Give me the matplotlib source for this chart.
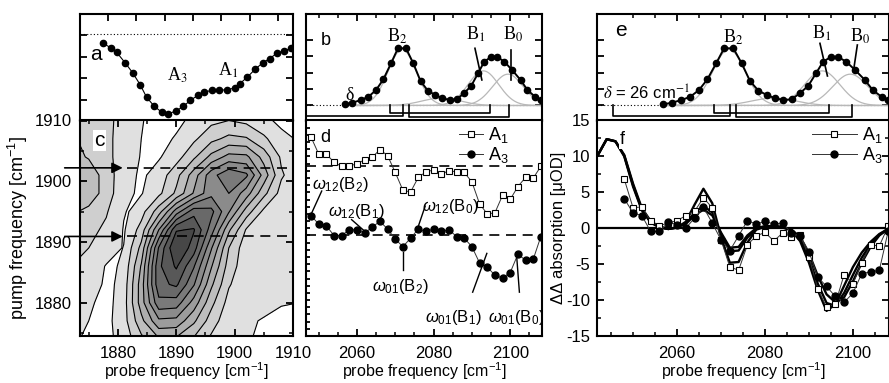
import numpy as np
import matplotlib as mpl
mpl.use('Agg')
import matplotlib.pyplot as plt

plt.rcParams.update({
    'font.family': ['Liberation Sans', 'DejaVu Sans'],
    'mathtext.fontset': 'custom',
    'mathtext.rm': 'Liberation Sans',
    'mathtext.it': 'Liberation Sans:italic',
    'mathtext.bf': 'Liberation Sans:bold',
    'axes.unicode_minus': False,
    'font.size': 12,
    'axes.linewidth': 1.5,
    'xtick.direction': 'in', 'ytick.direction': 'in',
    'xtick.top': True, 'ytick.right': True,
    'xtick.major.size': 5, 'ytick.major.size': 5,
    'xtick.minor.size': 3, 'ytick.minor.size': 3,
    'xtick.major.width': 1.3, 'ytick.major.width': 1.3,
    'xtick.minor.width': 1.1, 'ytick.minor.width': 1.1,
})

# --- a: linear absorption of the A bands
a_freq = [1877.5, 1878.8, 1879.8, 1881.2, 1882.5, 1883.8, 1884.9, 1886.2, 1887.5,
          1888.6, 1889.9, 1891.2, 1892.4, 1893.7, 1894.8, 1896.1, 1897.3, 1898.7,
          1900.0, 1900.9, 1902.2, 1903.5, 1904.8, 1906.0, 1907.2, 1908.4, 1909.6]
a_abs = [-0.93, -1.37, -1.83, -2.83, -3.83, -5.03, -6.27, -7.17, -7.77, -7.93, -7.67,
         -7.2, -6.6, -6.1, -5.77, -5.6, -5.6, -5.53, -5.37, -4.93, -4.27, -3.5, -2.87,
         -2.43, -1.93, -1.67, -1.43]

# --- c: 2D spectrum (contour level index), main diagonal peak and left cross feature
c_probe = [1872, 1875, 1878, 1881, 1884, 1887, 1890, 1893, 1896, 1899, 1902, 1905, 1908, 1911]
c_pump = [1874, 1877, 1880, 1883, 1886, 1889, 1892, 1895, 1898, 1901, 1904, 1907, 1910, 1913]
c_main = [
    [0, 0.03, 0.22, 0.89, 2.24, 3.4, 3.3, 2.37, 1.29, 0.6, 0.6, 0.3, 0.3, 0.3],
    [0, 0.02, 0.2, 1.1, 3.2, 5.3, 5.2, 3.7, 2.0, 0.83, 0.6, 0.45, 0.3, 0.3],
    [0, 0.01, 0.14, 1.05, 4.0, 7.2, 7.05, 5.1, 2.8, 1.13, 0.7, 0.7, 0.55, 0.5],
    [0, 0, 0.11, 0.95, 4.0, 8.2, 8.7, 6.6, 3.7, 1.6, 0.8, 0.8, 0.8, 0.8],
    [0, 0, 0.08, 0.75, 3.6, 8.3, 9.65, 7.6, 4.6, 2.05, 0.85, 0.85, 0.85, 0.85],
    [0, 0, 0.05, 0.53, 2.8, 7.6, 10.6, 9.0, 5.6, 2.5, 0.85, 0.85, 0.85, 0.85],
    [0, 0, 0.04, 0.38, 1.9, 5.5, 9.4, 9.6, 7.0, 3.7, 1.4, 0.85, 0.85, 0.85],
    [0, 0, 0.04, 0.26, 1.08, 3.05, 6.0, 8.1, 7.8, 5.6, 3.05, 1.25, 0.85, 0.85],
    [0, 0, 0.03, 0.12, 0.44, 1.25, 2.7, 4.6, 6.2, 6.5, 5.0, 2.8, 1.12, 0.85],
    [0, 0, 0.02, 0.09, 0.31, 0.93, 2.15, 4.0, 6.1, 7.3, 6.7, 4.1, 1.63, 0.85],
    [0, 0, 0.01, 0.03, 0.12, 0.4, 1.08, 2.3, 3.8, 4.85, 4.75, 3.1, 1.33, 0.85],
    [0, 0, 0, 0.01, 0.05, 0.2, 0.59, 1.3, 2.2, 2.76, 2.6, 1.7, 0.76, 0.4],
    [0, 0, 0, 0, 0.02, 0.08, 0.28, 0.72, 1.25, 1.5, 1.25, 0.72, 0.28, 0.08],
    [0, 0, 0, 0, 0, 0.03, 0.12, 0.43, 0.75, 0.9, 0.75, 0.43, 0.12, 0.03],
]
c_left = [
    [0.6, 0.4, 0.15, 0, 0, 0, 0, 0, 0, 0, 0, 0, 0, 0],
    [0.7, 0.5, 0.2, 0.05, 0, 0, 0, 0, 0, 0, 0, 0, 0, 0],
    [0.9, 0.6, 0.3, 0.1, 0, 0, 0, 0, 0, 0, 0, 0, 0, 0],
    [1.2, 0.8, 0.4, 0.15, 0, 0, 0, 0, 0, 0, 0, 0, 0, 0],
    [1.5, 1.0, 0.45, 0.2, 0, 0, 0, 0, 0, 0, 0, 0, 0, 0],
    [1.8, 1.5, 0.9, 0.45, 0, 0, 0, 0, 0, 0, 0, 0, 0, 0],
    [2.1, 1.8, 1.3, 0.45, 0.1, 0, 0, 0, 0, 0, 0, 0, 0, 0],
    [2.7, 2.2, 1.6, 0.55, 0.2, 0, 0, 0, 0, 0, 0, 0, 0, 0],
    [3.4, 3.2, 2.0, 0.8, 0.3, 0, 0, 0, 0, 0, 0, 0, 0, 0],
    [3.5, 3.2, 2.0, 0.9, 0.35, 0.1, 0, 0, 0, 0, 0, 0, 0, 0],
    [2.9, 2.4, 1.8, 1.0, 0.45, 0.1, 0, 0, 0, 0, 0, 0, 0, 0],
    [2.6, 2.3, 1.8, 1.0, 0.5, 0.15, 0, 0, 0, 0, 0, 0, 0, 0],
    [2.3, 2.1, 1.8, 1.1, 0.55, 0.2, 0, 0, 0, 0, 0, 0, 0, 0],
    [2.2, 2.0, 1.8, 1.1, 0.6, 0.2, 0, 0, 0, 0, 0, 0, 0, 0],
]
c_cut_pump = [1902.2, 1890.9]

# --- b / e: linear absorption of the B bands with fit components
be_freq = [2056.9, 2058.8, 2061.0, 2063.0, 2065.0, 2066.9, 2068.9, 2070.7, 2072.8, 2074.7,
           2076.6, 2078.5, 2080.4, 2082.3, 2084.2, 2086.1, 2087.9, 2089.8, 2091.6, 2093.2,
           2095.0, 2096.6, 2098.5, 2100.5, 2102.7, 2104.5, 2106.5, 2108.0]
be_abs = [0.07, 0.17, 0.33, 0.53, 0.94, 1.59, 2.56, 3.47, 3.47, 2.56, 1.48, 0.90, 0.64,
          0.44, 0.33, 0.38, 0.74, 1.18, 1.95, 2.65, 2.95, 2.95, 2.65, 2.15, 1.55, 0.94,
          0.53, 0.33]
comp_center = [2071.8, 2082.0, 2093.0, 2099.4]
comp_height = [3.4, 0.45, 2.1, 1.9]
comp_sigma = [3.7, 5.0, 4.0, 4.0]
br_lo = [2045.5, 2068.5, 2073.5]
br_hi = [2072.0, 2094.6, 2099.7]
br_depth = [-0.62, -0.45, -0.70]

# --- d: cuts of the 2D spectrum at the A1 and A3 pump frequencies
d_freq = [2048, 2050, 2052, 2054, 2056, 2058, 2060, 2062, 2064, 2066, 2068, 2070, 2072,
          2074, 2076, 2078, 2080, 2082, 2084, 2086, 2088, 2090, 2092, 2094, 2096, 2098,
          2100, 2102, 2104, 2106, 2108]
d_A1 = [12.7, 10.35, 10.35, 9.18, 8.62, 8.7, 8.94, 9.55, 9.88, 10.96, 10.1, 7.77, 5.28,
        5.05, 7.07, 7.86, 8.1, 7.54, 8.0, 7.86, 7.77, 6.45, 3.41, 2.0, 2.14, 4.58, 4.01,
        5.8, 7.07, 6.97, 8.62]
d_A3 = [1.76, 0.59, 0.35, -1.01, -1.01, -0.21, -0.21, -0.68, 0.17, 0.96, -0.11, -1.52,
        -2.56, -1.38, -0.11, -0.45, -0.11, -0.45, -0.21, -1.15, -1.38, -2.56, -4.82,
        -5.38, -6.55, -6.93, -6.17, -3.63, -4.44, -4.34, -1.15]
d_base = [8.7, -1.0]

# --- f: measured cuts and simulated curves
f_A1 = [6.83, 2.84, 2.98, 0.96, 0.35, 0.73, 1.06, 1.76, 2.37, 4.25, 2.84, -1.62, -5.38,
        -5.85, -2.32, -1.06, -0.59, -1.76, -0.68, -1.15, -0.92, -3.97, -8.43, -11.0,
        -10.5, -6.45, -7.72, -4.81, -2.32, -2.46, 0.26]
f_A3 = [4.11, 2.14, 1.76, -0.45, -0.45, 0.87, 0.49, 0.02, 1.43, 2.93, 0.73, -1.62, -3.12,
        -1.06, 1.06, 0.59, 0.96, 0.59, 0.73, -0.68, -1.06, -3.26, -6.78, -8.1, -9.5,
        -10.3, -9.04, -6.31, -6.08, -5.85, -0.45]
sim_freq = [2042, 2044, 2046, 2048, 2050, 2052, 2054, 2056, 2058, 2060, 2062, 2064, 2066,
            2068, 2070, 2072, 2074, 2076, 2078, 2080, 2082, 2084, 2086, 2088, 2090, 2092,
            2094, 2096, 2098, 2100, 2102, 2104, 2106, 2108]
sim_1 = [10.2, 12.4, 12.1, 10.2, 6.2, 2.8, 1.0, 0.2, -0.1, 0.1, 0.9, 3.3, 5.5, 3.5, -1.2,
         -4.8, -4.7, -2.0, -0.2, 0.2, 0.2, 0.1, -0.3, -1.8, -4.8, -8.6, -11.5, -10.6, -8.0,
         -5.4, -3.4, -1.9, -0.8, -0.1]
sim_2 = [10.2, 12.4, 12.1, 10.0, 5.8, 2.5, 0.8, 0.1, -0.1, 0.1, 0.6, 1.8, 2.6, 1.8, -0.6,
         -2.7, -2.6, -1.0, 0.0, 0.3, 0.3, 0.2, -0.2, -1.2, -3.5, -6.6, -9.2, -10.3, -9.6,
         -7.4, -4.8, -2.6, -1.0, -0.1]
sim_3 = [10.2, 12.4, 12.1, 10.1, 6.0, 2.6, 0.9, 0.15, -0.1, 0.1, 0.7, 2.2, 3.1, 2.2, -0.8,
         -3.2, -3.1, -1.3, -0.1, 0.25, 0.25, 0.15, -0.2, -1.5, -4.2, -7.7, -10.4, -10.8,
         -9.0, -6.5, -4.1, -2.2, -0.9, -0.1]

W, H = 889, 383
fig = plt.figure(figsize=(W / 100, H / 100), dpi=100)


def box(x0, y0, x1, y1):
    return [x0 / W, 1 - y1 / H, (x1 - x0) / W, (y1 - y0) / H]


ax_a = fig.add_axes(box(80, 14, 293, 120.5))
ax_c = fig.add_axes(box(80, 120.5, 293, 336))
ax_b = fig.add_axes(box(306, 14, 542, 120.5))
ax_d = fig.add_axes(box(306, 120.5, 542, 336))
ax_e = fig.add_axes(box(597, 14, 889, 120.5))
ax_f = fig.add_axes(box(597, 120.5, 889, 336))

serif = dict(family='Liberation Serif', math_fontfamily='stix')
xlab = 'probe frequency [cm$^{-1}$]'

# ---------------- a
ax_a.axhline(0, color='k', lw=0.8, ls=(0, (1, 2)))
ax_a.plot(a_freq, a_abs, 'k-', lw=0.8, marker='o', ms=4.5)
ax_a.set_xlim(1873.5, 1910)
ax_a.set_ylim(-8.6, 2.0)
ax_a.set_xticks(np.arange(1878.3, 1910, 4.85))
ax_a.set_yticks([-6.6, -4.4, -2.25, -0.1])
ax_a.tick_params(labelbottom=False, labelleft=False, bottom=False)
ax_a.text(1875.2, -2.6, 'a', fontsize=15)
ax_a.text(1888.4, -4.6, 'A$_3$', fontsize=13, **serif)
ax_a.text(1897.2, -4.1, 'A$_1$', fontsize=13, **serif)

# ---------------- c
P, Q = np.meshgrid(c_probe, c_pump)
levels = list(np.arange(0.5, 10.0, 1.0)) + [12]
greys = [str(round(g, 3)) for g in np.linspace(0.88, 0.28, len(levels) - 1)]
for z in (np.array(c_left), np.array(c_main)):
    ax_c.contourf(P, Q, z, levels=levels, colors=greys)
    ax_c.contour(P, Q, z, levels=levels[:-1], colors='k', linewidths=0.8)
ax_c.set_xlim(1873.5, 1910)
ax_c.set_ylim(1874.5, 1910)
ax_c.set_xticks([1880, 1890, 1900, 1910])
ax_c.set_yticks([1880, 1890, 1900, 1910])
ax_c.set_xticks(np.arange(1875, 1911, 5), minor=True)
ax_c.set_yticks(np.arange(1875, 1911, 5), minor=True)
ax_c.tick_params(axis='y', labelsize=12, pad=6)
ax_c.tick_params(axis='x', labelsize=12, pad=7)
ax_c.set_xlabel(xlab, fontsize=11.5)
ax_c.xaxis.set_label_coords(0.5, -0.115)
ax_c.set_ylabel('pump frequency [cm$^{-1}$]', fontsize=13)
ax_c.yaxis.set_label_coords(-0.235, 0.5)
ax_c.text(1876.8, 1906.7, 'c', fontsize=15, ha='center', va='center',
          bbox=dict(fc='white', ec='none', pad=1))
for yv in c_cut_pump:
    ax_c.annotate('', xy=(1881.3, yv), xytext=(1870.4, yv), annotation_clip=False,
                  arrowprops=dict(arrowstyle='-|>', color='k', lw=1.2, mutation_scale=16))
    ax_c.plot([1881.6, 1910], [yv, yv], color='k', lw=1.2, dashes=(6, 4))

# ---------------- b and e
gx = np.linspace(2057, 2108.5, 300)
for ax, lim in ((ax_b, (2046.7, 2108.3)), (ax_e, (2041.8, 2108.2))):
    ax.axhline(0, color='k', lw=0.8, ls=(0, (1, 2)))
    for c0, h0, s0 in zip(comp_center, comp_height, comp_sigma):
        ax.plot(gx, h0 * np.exp(-(gx - c0) ** 2 / (2 * s0 ** 2)), color='0.72', lw=0.9)
    ax.plot(be_freq, be_abs, 'k-', lw=1.4, marker='o', ms=4.5)
    for lo, hi, dep in zip(br_lo, br_hi, br_depth):
        ax.plot([lo, lo, hi, hi], [0, dep, dep, 0], color='k', lw=1.2)
    ax.set_xlim(*lim)
    ax.set_ylim(-0.91, 5.55)
    ax.set_xticks([2060, 2080, 2100])
    ax.set_xticks(np.arange(2050, 2110, 5), minor=True)
    ax.set_yticks([0, 1, 2, 3, 4])
    ax.tick_params(labelbottom=False, labelleft=False, bottom=False)
    ax.tick_params(which='minor', bottom=False)

ax_b.text(2050.6, 3.67, 'b', fontsize=13)
ax_b.text(2056.9, 0.33, 'δ', fontsize=13, family='Liberation Serif')
ax_b.text(2067.9, 3.85, 'B$_2$', fontsize=13, **serif)
ax_b.text(2088.5, 3.97, 'B$_1$', fontsize=13, **serif)
ax_b.text(2098.1, 3.97, 'B$_0$', fontsize=13, **serif)
ax_b.plot([2090.8, 2092.6], [3.47, 1.55], color='k', lw=1.2)
ax_b.plot([2100.2, 2100.2], [3.36, 1.55], color='k', lw=1.2)

ax_e.text(2046.0, 4.2, 'e', fontsize=15)
ax_e.text(2043.2, 0.33, r'$\delta$ = 26 cm$^{-1}$', fontsize=12, math_fontfamily='stix')
ax_e.text(2070.5, 3.8, 'B$_2$', fontsize=13, **serif)
ax_e.text(2090.7, 4.03, 'B$_1$', fontsize=13, **serif)
ax_e.text(2099.3, 3.9, 'B$_0$', fontsize=13, **serif)
ax_e.plot([2092.5, 2094.2], [3.77, 1.79], color='k', lw=1.2)
ax_e.plot([2101.0, 2100.1], [3.67, 2.05], color='k', lw=1.2)

# ---------------- d
for yb in d_base:
    ax_d.axhline(yb, color='k', lw=1.2, dashes=(6, 4))
ax_d.plot(d_freq, d_A1, color='0.2', lw=0.7, marker='s', ms=4, mfc='white', mec='k',
          mew=0.8, label='A$_1$')
ax_d.plot(d_freq, d_A3, color='0.2', lw=0.7, marker='o', ms=5, mfc='k', mec='k',
          label='A$_3$')
ax_d.set_xlim(2046.7, 2108.3)
ax_d.set_ylim(-15, 15)
ax_d.set_xticks([2060, 2080, 2100])
ax_d.set_xticks(np.arange(2050, 2110, 5), minor=True)
ax_d.set_yticks(np.arange(-15, 16, 1))
ax_d.tick_params(axis='y', labelleft=False, length=3, right=False)
ax_d.tick_params(axis='x', labelsize=12, pad=7, top=False)
ax_d.tick_params(axis='x', which='minor', top=False)
ax_d.set_xlabel(xlab, fontsize=11.5)
ax_d.xaxis.set_label_coords(0.5, -0.115)
ax_d.legend(loc='upper left', bbox_to_anchor=(0.63, 1.0), frameon=False, fontsize=13,
            handlelength=1.3, handletextpad=0.3, labelspacing=0.0, borderaxespad=0.0,
            borderpad=0.25)
ax_d.text(2050.4, 12.0, 'd', fontsize=13)
om = [(r'$\omega_{12}$(B$_2$)', 2048.3, 5.4, (2050.8, 2048.2), (5.18, 2.14)),
      (r'$\omega_{12}$(B$_1$)', 2052.4, 1.76, (2058.6, 2062.1), (1.2, -0.45)),
      (r'$\omega_{12}$(B$_0$)', 2077.0, 2.46, (2077.8, 2076.0), (3.07, 0.25)),
      (r'$\omega_{01}$(B$_2$)', 2063.9, -8.8, (2071.9, 2071.9), (-3.27, -5.85)),
      (r'$\omega_{01}$(B$_1$)', 2077.8, -13.0, (2090.2, 2093.9), (-8.9, -3.5)),
      (r'$\omega_{01}$(B$_0$)', 2094.2, -13.0, (2102.4, 2101.7), (-8.9, -3.97))]
for s, tx, ty, lx, ly in om:
    ax_d.text(tx, ty, s, fontsize=12, clip_on=True)
    ax_d.plot(lx, ly, color='k', lw=1.0)

# ---------------- f
ax_f.axhline(0, color='k', lw=1.6)
for sim in (sim_2, sim_3, sim_1):
    ax_f.plot(sim_freq, sim, color='k', lw=1.7)
ax_f.plot(d_freq, f_A1, color='0.2', lw=0.7, marker='s', ms=4, mfc='white', mec='k',
          mew=0.8, label='A$_1$')
ax_f.plot(d_freq, f_A3, color='0.2', lw=0.7, marker='o', ms=5, mfc='k', mec='k',
          label='A$_3$')
ax_f.set_xlim(2041.8, 2108.2)
ax_f.set_ylim(-15, 15)
ax_f.set_xticks([2060, 2080, 2100])
ax_f.set_xticks(np.arange(2045, 2110, 5), minor=True)
ax_f.set_yticks(np.arange(-15, 16, 5))
ax_f.set_yticks(np.arange(-12.5, 15, 5), minor=True)
ax_f.tick_params(axis='y', labelsize=12, pad=5)
ax_f.tick_params(axis='x', labelsize=12, pad=7, top=False)
ax_f.tick_params(axis='x', which='minor', top=False)
ax_f.set_xlabel(xlab, fontsize=11.5)
ax_f.xaxis.set_label_coords(0.5, -0.115)
ax_f.set_ylabel('ΔΔ absorption [μOD]', fontsize=12)
ax_f.yaxis.set_label_coords(-0.105, 0.5)
ax_f.legend(loc='upper left', bbox_to_anchor=(0.72, 1.0), frameon=False, fontsize=13,
            handlelength=2.5, handletextpad=0.3, labelspacing=0.0, borderaxespad=0.0,
            borderpad=0.25)
ax_f.text(2047.0, 11.75, 'f', fontsize=13, bbox=dict(fc='white', ec='none', pad=0.5))

fig.savefig('out.png', dpi=100)
